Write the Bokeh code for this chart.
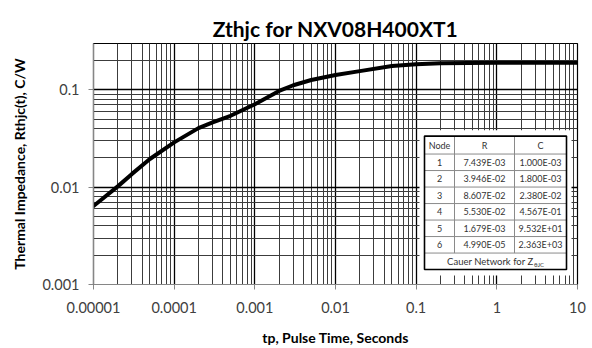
import math
from bokeh.plotting import figure
from bokeh.models import FixedTicker
from bokeh.embed import file_html
from bokeh.resources import INLINE
from bokeh.core.properties import value

# ---- data ----
t_s = [1e-5, 2e-5, 3e-5, 5e-5, 1e-4, 2e-4, 3e-4, 5e-4, 1e-3, 2e-3, 3e-3,
       5e-3, 1e-2, 2e-2, 5e-2, 0.1, 0.2, 1.0, 10.0]
zth = [0.0064, 0.0102, 0.0137, 0.0195, 0.0289, 0.0405, 0.0463, 0.0542, 0.0712,
       0.0977, 0.1117, 0.1265, 0.1426, 0.156, 0.176, 0.184, 0.188, 0.19, 0.19]

x_ticks = [1e-5, 1e-4, 1e-3, 1e-2, 1e-1, 1.0, 10.0]
x_tick_labels = ["0.00001", "0.0001", "0.001", "0.01", "0.1", "1", "10"]
y_ticks = [0.001, 0.01, 0.1]
y_tick_labels = ["0.001", "0.01", "0.1"]

nodes = ["1", "2", "3", "4", "5", "6"]
r_vals = ["7.439E-03", "3.946E-02", "8.607E-02", "5.530E-02", "1.679E-03", "4.990E-05"]
c_vals = ["1.000E-03", "1.800E-03", "2.380E-02", "4.567E-01", "9.532E+01", "2.363E+03"]
table_header = ["Node", "R", "C"]
table_caption = "Cauer Network for Z"
table_caption_sub = "θJC"

title_text = "Zthjc for NXV08H400XT1"
x_label = "tp, Pulse Time, Seconds"
y_label = "Thermal Impedance, Rthjc(t), C/W"

# ---- layout ----
W, H = 592, 348
FL, FR, FT, FB = 93, 577, 43, 285
XMIN, XMAX = 1e-5, 10.0
YMIN, YMAX = 0.001, 0.3


def px2x(px):
    return 10 ** (math.log10(XMIN) + (px - FL) / (FR - FL) * (math.log10(XMAX) - math.log10(XMIN)))


def py2y(py):
    return 10 ** (math.log10(YMAX) - (py - FT) / (FB - FT) * (math.log10(YMAX) - math.log10(YMIN)))


p = figure(width=W, height=H, x_axis_type="log", y_axis_type="log",
           x_range=(XMIN, XMAX), y_range=(YMIN, YMAX),
           output_backend="svg", toolbar_location=None,
           min_border_left=FL, min_border_right=W - FR,
           min_border_top=FT, min_border_bottom=H - FB)

p.background_fill_color = "white"
p.border_fill_color = "white"
p.outline_line_color = "black"
p.outline_line_width = 1.2

# title
p.title.text = title_text
p.title.align = "center"
p.title.text_font = "Lato"
p.title.text_font_size = "21px"
p.title.text_font_style = "bold"
p.title.text_color = "black"
p.title.standoff = 6

# tickers
x_minor = [k * 10 ** e for e in range(-5, 1) for k in range(2, 10)]
y_minor = [k * 10 ** e for e in range(-3, -1) for k in range(2, 10)] + [0.2]
xt = FixedTicker(ticks=x_ticks, minor_ticks=x_minor)
yt = FixedTicker(ticks=y_ticks, minor_ticks=y_minor)
p.xaxis.ticker = xt
p.yaxis.ticker = yt
p.xgrid.ticker = xt
p.ygrid.ticker = yt
p.xaxis.major_label_overrides = dict(zip(x_ticks, x_tick_labels))
p.yaxis.major_label_overrides = dict(zip(y_ticks, y_tick_labels))

for g in (p.xgrid, p.ygrid):
    g.grid_line_color = "black"
    g.grid_line_width = 1.3
    g.minor_grid_line_color = "#3c3c3c"
    g.minor_grid_line_width = 1

for ax in (p.xaxis, p.yaxis):
    ax.axis_line_color = "#868686"
    ax.axis_line_width = 1.2
    ax.major_tick_line_color = "#868686"
    ax.major_tick_out = 5
    ax.major_tick_in = 0
    ax.minor_tick_line_color = None
    ax.major_label_text_font = "Lato"
    ax.major_label_text_font_size = "14.5px"
    ax.major_label_text_color = "#404040"
    ax.axis_label_text_font = "Lato"
    ax.axis_label_text_font_size = "14px"
    ax.axis_label_text_font_style = "bold"
    ax.axis_label_text_color = "black"

p.xaxis.axis_label = x_label
p.yaxis.axis_label = y_label
p.xaxis.major_label_standoff = 12
p.xaxis.axis_label_standoff = 13
p.yaxis.major_label_standoff = 9
p.yaxis.axis_label_standoff = 11

# curve
p.line(t_s, zth, line_color="black", line_width=4, line_join="round", line_cap="round")

# ---- table (positioned in pixels, converted through the axes' scales) ----
TL, TR, TT, TB = 424, 566, 136, 270
C1, C2 = 454, 514
HDR = 154
ROWH = (TB - HDR) / 7.0

# white background that hides grid lines around the table
p.quad(left=[px2x(419)], right=[px2x(571)], top=[py2y(130)], bottom=[py2y(276)],
       fill_color="white", line_color=None)

# inner lines
seg_x0, seg_x1, seg_y0, seg_y1 = [], [], [], []
for i in range(0, 7):
    yy = HDR + i * ROWH
    seg_x0.append(px2x(TL)); seg_x1.append(px2x(TR))
    seg_y0.append(py2y(yy)); seg_y1.append(py2y(yy))
for cx in (C1, C2):
    seg_x0.append(px2x(cx)); seg_x1.append(px2x(cx))
    seg_y0.append(py2y(TT)); seg_y1.append(py2y(HDR + 6 * ROWH))
p.segment(seg_x0, seg_y0, seg_x1, seg_y1, line_color="#8a8a8a", line_width=1)

# outer border
p.quad(left=[px2x(TL)], right=[px2x(TR)], top=[py2y(TT)], bottom=[py2y(TB)],
       fill_color=None, line_color="black", line_width=1.6)

col_cx = [(TL + C1) / 2, (C1 + C2) / 2, (C2 + TR) / 2]
tx, ty, tt = [], [], []
for j, h in enumerate(table_header):
    tx.append(px2x(col_cx[j])); ty.append(py2y((TT + HDR) / 2)); tt.append(h)
for i in range(len(nodes)):
    yc = HDR + (i + 0.5) * ROWH
    for j, v in enumerate((nodes[i], r_vals[i], c_vals[i])):
        tx.append(px2x(col_cx[j])); ty.append(py2y(yc)); tt.append(v)
p.text(x=tx, y=ty, text=tt, text_font=value("Lato"), text_font_size="9px",
       text_color="#333333", text_align="center", text_baseline="middle")

cap_y = HDR + 6.5 * ROWH
p.text(x=[px2x(533)], y=[py2y(cap_y)], text=[table_caption], text_font=value("Lato"),
       text_font_size="9.5px", text_color="#333333", text_align="right", text_baseline="middle")
p.text(x=[px2x(533.5)], y=[py2y(cap_y + 3)], text=[table_caption_sub], text_font=value("Lato"),
       text_font_size="6px", text_color="#333333", text_align="left", text_baseline="middle")

open("out.html", "w").write(file_html(p, INLINE))
